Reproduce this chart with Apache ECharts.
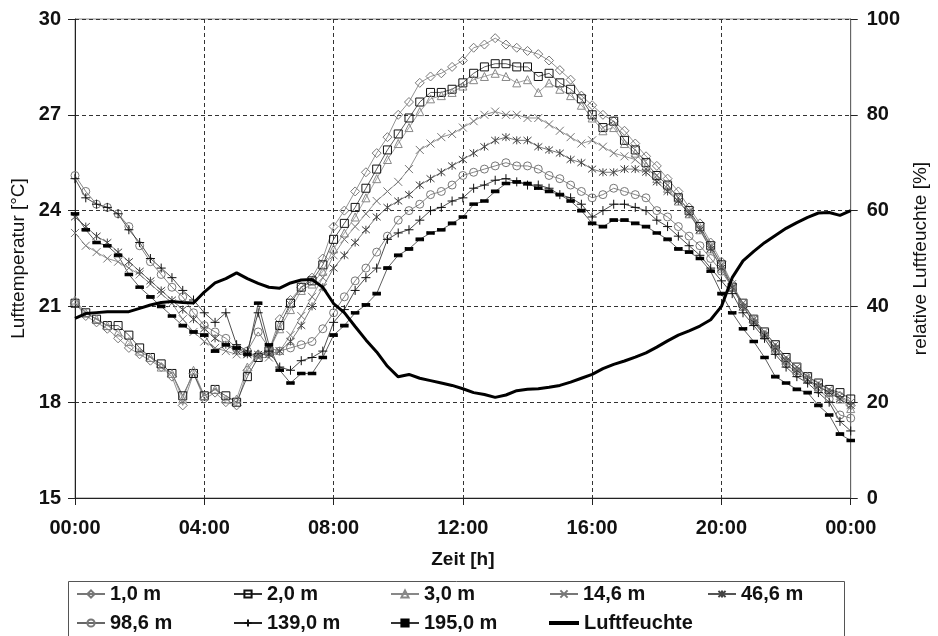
<!DOCTYPE html>
<html>
<head>
<meta charset="utf-8">
<script src="https://cdn.jsdelivr.net/npm/echarts@6/dist/echarts.min.js"></script>
<style>
html,body{margin:0;padding:0;background:#fff}
#chart{width:938px;height:636px}
</style>
</head>
<body>
<div id="chart"></div>
<script>
// readings every 20 min, 00:00 .. 24:00 (73 values each)
const t1m = [21.1,20.7,20.5,20.3,20.0,19.7,19.5,19.3,19.1,18.8,
  17.9,18.9,18.1,18.3,18.0,17.9,19.0,19.5,19.6,20.6,
  21.2,21.6,21.9,22.5,23.5,24.0,24.6,25.2,25.8,26.3,
  27.0,27.4,28.0,28.2,28.3,28.5,28.7,29.1,29.2,29.4,
  29.2,29.1,29.0,28.9,28.7,28.4,28.1,27.6,27.3,27.0,
  26.8,26.5,26.1,25.7,25.4,25.0,24.6,24.1,23.6,23.0,
  22.4,21.7,21.0,20.5,20.1,19.7,19.3,19.0,18.7,18.5,
  18.3,18.2,17.9];
const t2m = [21.1,20.8,20.6,20.4,20.4,20.1,19.7,19.4,19.2,18.9,
  18.2,18.9,18.2,18.4,18.2,18.0,18.8,19.4,19.6,20.4,
  21.1,21.6,21.8,22.3,23.1,23.6,24.1,24.7,25.3,25.9,
  26.4,26.9,27.4,27.7,27.7,27.8,28.0,28.3,28.5,28.6,
  28.6,28.5,28.5,28.2,28.3,28.0,27.8,27.5,27.0,26.6,
  26.8,26.2,25.9,25.5,25.1,24.8,24.4,24.0,23.5,22.9,
  22.3,21.6,21.1,20.6,20.2,19.8,19.4,19.1,18.8,18.6,
  18.4,18.3,18.1];
const t3m = [21.2,20.8,20.6,20.4,20.2,19.9,19.6,19.4,19.1,18.9,
  18.1,19.0,18.2,18.4,18.1,18.1,19.1,19.5,19.6,20.3,
  20.9,21.5,21.7,22.1,22.8,23.3,23.8,24.4,25.0,25.6,
  26.1,26.6,27.1,27.5,27.6,27.7,27.9,28.1,28.2,28.3,
  28.2,28.0,28.1,27.7,28.0,27.8,27.6,27.3,26.9,26.5,
  26.6,26.1,25.8,25.4,25.0,24.7,24.3,23.9,23.4,22.8,
  22.2,21.6,21.0,20.6,20.1,19.7,19.3,19.0,18.8,18.5,
  18.3,18.1,17.8];
const t14m = [23.3,22.9,22.7,22.5,22.4,22.2,22.0,21.7,21.4,21.1,
  20.6,20.2,19.9,19.7,19.6,19.5,19.5,19.4,19.4,19.6,
  20.1,20.7,21.3,21.9,22.6,23.1,23.5,23.9,24.3,24.6,
  24.9,25.3,25.9,26.1,26.3,26.4,26.6,26.8,27.0,27.1,
  27.0,27.0,26.9,26.9,26.7,26.5,26.3,26.1,26.2,26.0,
  25.8,25.7,25.6,25.3,25.1,24.8,24.4,24.0,23.4,22.9,
  22.3,21.7,21.1,20.6,20.2,19.8,19.4,19.1,18.8,18.6,
  18.4,18.2,18.0];
const t46m = [23.8,23.5,23.2,23.0,22.7,22.4,22.1,21.8,21.5,21.2,
  20.9,20.6,20.3,20.0,19.8,19.6,19.5,19.5,19.5,19.6,
  19.9,20.4,21.0,21.6,22.2,22.6,23.0,23.4,23.8,24.1,
  24.3,24.5,24.8,25.0,25.2,25.4,25.6,25.8,26.0,26.2,
  26.3,26.2,26.2,26.0,25.9,25.8,25.6,25.5,25.3,25.2,
  25.2,25.3,25.3,25.2,24.9,24.6,24.3,23.9,23.4,22.8,
  22.2,21.6,21.0,20.5,20.1,19.7,19.3,19.0,18.7,18.5,
  18.3,18.1,17.9];
const t98m = [25.1,24.6,24.2,24.1,23.9,23.5,22.9,22.4,22.0,21.6,
  21.3,20.8,20.4,20.2,20.0,19.7,19.6,20.2,19.7,19.6,
  19.7,19.8,19.9,20.3,20.8,21.3,21.8,22.2,22.7,23.2,
  23.7,24.0,24.2,24.5,24.6,24.8,25.1,25.2,25.3,25.4,
  25.5,25.4,25.4,25.3,25.1,25.0,24.8,24.6,24.4,24.5,
  24.7,24.6,24.5,24.4,24.0,23.8,23.5,23.2,22.9,22.5,
  22.1,21.6,21.1,20.6,20.1,19.6,19.2,18.9,18.7,18.4,
  18.1,17.6,17.5];
const t139m = [25.0,24.4,24.2,24.1,23.9,23.4,23.0,22.5,22.2,21.9,
  21.5,21.2,20.8,20.5,20.8,19.8,19.6,20.8,19.6,19.1,
  19.0,19.3,19.4,19.6,20.5,20.9,21.5,21.9,22.2,23.1,
  23.3,23.4,23.7,24.0,24.1,24.3,24.4,24.7,24.8,24.95,
  25.0,24.9,24.8,24.8,24.7,24.5,24.4,24.2,23.8,24.0,
  24.2,24.2,24.1,24.0,23.7,23.5,23.2,22.9,22.6,22.2,
  21.8,21.4,20.8,20.4,20.0,19.5,19.1,18.8,18.6,18.3,
  18.0,17.4,17.1];
const t195m = [23.9,23.4,23.0,22.9,22.6,22.0,21.6,21.3,21.0,20.7,
  20.4,20.2,20.1,19.6,19.8,19.7,19.5,21.1,19.8,19.0,
  18.6,18.9,18.9,19.4,20.1,20.4,20.8,21.05,21.4,22.2,
  22.6,22.8,23.1,23.3,23.4,23.6,23.8,24.2,24.3,24.6,
  24.85,24.9,24.85,24.7,24.6,24.5,24.3,24.0,23.6,23.5,
  23.7,23.7,23.6,23.5,23.3,23.1,22.8,22.7,22.5,22.1,
  21.4,20.8,20.3,19.9,19.4,18.8,18.6,18.4,18.3,17.9,
  17.6,17.0,16.8];
const humidity = [37.5,38.5,38.7,38.9,38.9,38.9,39.6,40.3,40.8,41.0,
  40.8,40.7,43.0,44.9,45.8,47.0,45.8,44.8,44.0,43.8,
  44.9,45.5,45.6,44.0,40.6,38.7,35.8,33.0,30.5,27.5,
  25.3,25.8,25.0,24.5,24.0,23.5,22.8,22.0,21.6,21.0,
  21.5,22.4,22.7,22.8,23.1,23.5,24.2,25.0,25.8,27.0,
  27.9,28.6,29.4,30.3,31.5,32.8,34.0,34.9,35.9,37.2,
  40.0,46.0,49.5,51.5,53.3,54.8,56.3,57.5,58.6,59.5,
  59.6,59.0,60.0];

const names = ['1,0 m','2,0 m','3,0 m','14,6 m','46,6 m','98,6 m','139,0 m','195,0 m','Luftfeuchte'];
const hours = humidity.map((_, i) => i / 3);

const FONT = '"Liberation Sans", Arial, sans-serif';
const CROSS = 'path://M0,0L10,10M10,0L0,10';
const STAR = 'path://M0,0L10,10M10,0L0,10M5,-1L5,11';
const PLUS = 'path://M5,0L5,10M0,5L10,5';

function pairs(vals){
  return vals.map((v, i) => [hours[i], v]);
}

function tempSeries(name, vals, symbol, size, stroke, line, fill){
  return {
    name: name,
    type: 'line',
    data: pairs(vals),
    symbol: symbol,
    symbolSize: size,
    showAllSymbol: true,
    lineStyle: {color: line, width: 0.8},
    itemStyle: {color: fill || 'rgba(0,0,0,0)', borderColor: stroke, borderWidth: 1},
    emphasis: {disabled: true},
    z: 2
  };
}

const series = [
  tempSeries(names[0], t1m, 'diamond', 9, '#777', '#777'),
  tempSeries(names[1], t2m, 'rect', 8, '#111', '#333'),
  tempSeries(names[2], t3m, 'triangle', 8, '#888', '#888'),
  tempSeries(names[3], t14m, CROSS, 8, '#777', '#777'),
  tempSeries(names[4], t46m, STAR, 8, '#444', '#555'),
  tempSeries(names[5], t98m, 'circle', 8, '#777', '#666'),
  tempSeries(names[6], t139m, PLUS, 9, '#111', '#222'),
  tempSeries(names[7], t195m, 'rect', [7, 3], '#000', '#333', '#000'),
  {
    name: names[8],
    type: 'line',
    yAxisIndex: 1,
    data: pairs(humidity),
    symbol: 'none',
    lineStyle: {color: '#000', width: 3},
    itemStyle: {color: '#000'},
    emphasis: {disabled: true},
    z: 5
  }
];

const legendPos = [[76,584],[233,584],[390,584],[549,584],[707,584],
                   [76,613],[233,613],[390,613],[549,613]];
const legends = names.map((n, i) => {
  const lg = {
    data: [n],
    left: legendPos[i][0],
    top: legendPos[i][1],
    padding: 0,
    itemWidth: 28,
    itemHeight: 9,
    itemGap: 0,
    selectedMode: false,
    textStyle: {fontSize: 20, fontWeight: 'bold', color: '#111', fontFamily: FONT}
  };
  if (n === 'Luftfeuchte') {
    lg.data = [{name: n, icon: 'rect'}];
    lg.itemHeight = 4;
    lg.itemWidth = 30;
  }
  return lg;
});

const chart = echarts.init(document.getElementById('chart'));
chart.setOption({
  animation: false,
  backgroundColor: '#fff',
  textStyle: {fontFamily: FONT},
  grid: {left: 75, right: 81, top: 19, bottom: 138, show: true, borderColor: '#888', borderWidth: 1},
  legend: legends,
  graphic: [{
    type: 'rect',
    left: 66, top: 579,
    shape: {width: 776, height: 55},
    style: {fill: 'none', stroke: '#555', lineWidth: 1},
    z: -1
  }],
  xAxis: {
    type: 'value', min: 0, max: 24, interval: 4,
    axisLine: {lineStyle: {color: '#222'}},
    axisTick: {length: 7, lineStyle: {color: '#222'}},
    axisLabel: {
      formatter: v => String(v % 24).padStart(2, '0') + ':00',
      fontSize: 20, fontWeight: 'bold', color: '#111', margin: 20
    },
    splitLine: {lineStyle: {type: [4, 3], color: '#333', width: 1}},
    name: 'Zeit [h]', nameLocation: 'middle', nameGap: 52,
    nameTextStyle: {fontSize: 19, fontWeight: 'bold', color: '#111'}
  },
  yAxis: [{
    type: 'value', min: 15, max: 30, interval: 3,
    axisLine: {show: true, lineStyle: {color: '#222'}},
    axisTick: {show: true, length: 7, lineStyle: {color: '#222'}},
    axisLabel: {fontSize: 20, fontWeight: 'bold', color: '#111', margin: 14},
    splitLine: {lineStyle: {type: [4, 3], color: '#333', width: 1}},
    name: 'Lufttemperatur [°C]', nameLocation: 'middle', nameGap: 46, nameRotate: 90,
    nameTextStyle: {fontSize: 19, color: '#111'}
  }, {
    type: 'value', min: 0, max: 100, interval: 20, position: 'right',
    axisLine: {show: true, lineStyle: {color: '#666'}},
    axisTick: {show: true, length: 7, lineStyle: {color: '#222'}},
    axisLabel: {fontSize: 20, fontWeight: 'bold', color: '#111', margin: 16},
    splitLine: {show: false},
    name: 'relative Luftfeuchte [%]', nameLocation: 'middle', nameGap: 50, nameRotate: 90,
    nameTextStyle: {fontSize: 19, color: '#111'}
  }],
  series: series
});
</script>
</body>
</html>
